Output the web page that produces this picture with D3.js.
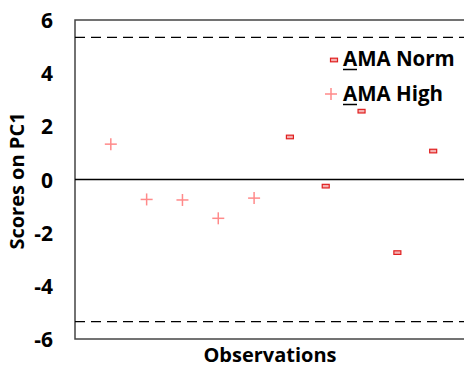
<!DOCTYPE html>
<html><head><meta charset="utf-8">
<script src="https://cdn.jsdelivr.net/npm/d3@7"></script>
<style>body{margin:0;background:#fff}svg{display:block}text{font-family:"Open Sans",sans-serif;font-weight:bold}</style>
</head><body>
<script>
const highObs = [1, 2, 3, 4, 5];
const highVals = [1.33, -0.75, -0.77, -1.46, -0.70];
const normObs = [6, 7, 8, 9, 10];
const normVals = [1.60, -0.25, 2.57, -2.75, 1.07];
const yTicks = [-6, -4, -2, 0, 2, 4, 6];
const limits = [5.35, -5.35];
const legendLabels = ["AMA Norm", "AMA High"];

const W = 464, H = 367;
const FONT = "'Open Sans', sans-serif";
const svg = d3.select("body").append("svg").attr("width", W).attr("height", H);
const x = d3.scaleLinear().domain([0, 11]).range([75, 469]);
const y = d3.scaleLinear().domain([-6, 6]).range([339, 20]);

// frame
svg.append("rect").attr("x", x(0)).attr("y", y(6)).attr("width", x(11) - x(0)).attr("height", y(-6) - y(6))
  .attr("fill", "none").attr("stroke", "#444").attr("stroke-width", 1.5);

// y axis labels
const ax = svg.append("g").attr("transform", `translate(${x(0)},0)`)
  .call(d3.axisLeft(y).tickValues(yTicks).tickSize(0).tickPadding(22).tickFormat(d => String(d)));
ax.select(".domain").remove();
ax.selectAll("text").attr("font-size", 21).attr("fill", "#000").attr("dy", "0.36em")
  .style("font-family", FONT).style("font-weight", "bold");

// zero line
svg.append("line").attr("x1", x(0)).attr("x2", x(11)).attr("y1", y(0)).attr("y2", y(0))
  .attr("stroke", "#000").attr("stroke-width", 1.5);

// limit lines
svg.selectAll(".lim").data(limits).join("line")
  .attr("x1", x(0)).attr("x2", x(11)).attr("y1", d => y(d)).attr("y2", d => y(d))
  .attr("stroke", "#000").attr("stroke-width", 1.3).attr("stroke-dasharray", "10,6");

// high: plus markers
const plus = (g, cx, cy, s) => {
  g.append("line").attr("x1", cx - s).attr("x2", cx + s).attr("y1", cy).attr("y2", cy);
  g.append("line").attr("x1", cx).attr("x2", cx).attr("y1", cy - s).attr("y2", cy + s);
};
const hg = svg.append("g").attr("stroke", "#ff8a8a").attr("stroke-width", 1.5);
highObs.forEach((o, i) => plus(hg, x(o), y(highVals[i]), 6));

// norm: small rectangles
svg.selectAll(".norm").data(normObs).join("rect")
  .attr("x", d => x(d) - 3.5).attr("y", (d, i) => y(normVals[i]) - 1.8)
  .attr("width", 7).attr("height", 3.6)
  .attr("fill", "#f4b0b0").attr("stroke", "#e02020").attr("stroke-width", 1.2);

// legend
const lg = svg.append("g");
lg.append("rect").attr("x", 334 - 3.5).attr("y", 60 - 1.8).attr("width", 7).attr("height", 3.6)
  .attr("fill", "#f4b0b0").attr("stroke", "#e02020").attr("stroke-width", 1.2);
const lp = lg.append("g").attr("stroke", "#ff8a8a").attr("stroke-width", 1.5);
plus(lp, 331, 94, 6);
legendLabels.forEach((t, i) => {
  const ty = 59 + i * 35;
  lg.append("text").attr("x", 343).attr("y", ty).attr("dy", "0.36em").attr("font-size", 20.5).text(t);
  lg.append("line").attr("x1", 343).attr("x2", 357).attr("y1", ty + 10.5).attr("y2", ty + 10.5)
    .attr("stroke", "#000").attr("stroke-width", 1.5);
});

// axis titles
svg.append("text").attr("x", 270).attr("y", 355).attr("dy", "0.36em").attr("text-anchor", "middle")
  .attr("font-size", 20).text("Observations");
svg.append("text").attr("transform", "translate(17,181) rotate(-90)").attr("dy", "0.36em")
  .attr("text-anchor", "middle").attr("font-size", 20).text("Scores on PC1");
</script>
</body></html>
